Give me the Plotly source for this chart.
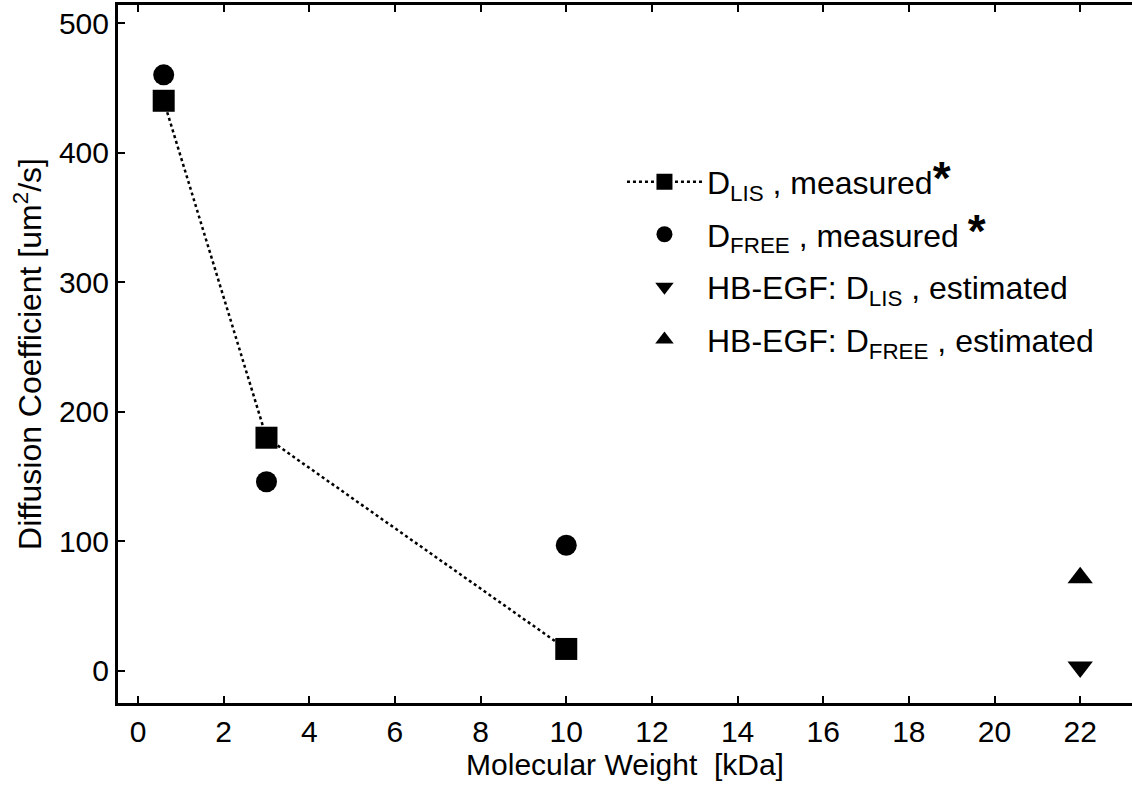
import plotly.graph_objects as go

# Data
mw_measured = [0.6, 3, 10]
d_lis_measured = [440, 180, 17]
d_free_measured = [460, 146, 97]
mw_hbegf = [22]
d_lis_hbegf = [3]
d_free_hbegf = [72]

x_ticks = list(range(0, 24, 2))
y_ticks = [0, 100, 200, 300, 400, 500]

FONT = "Liberation Sans, Arial, sans-serif"
star = "<span style='font-size:46px'><b>*</b></span>"

fig = go.Figure()
fig.add_trace(go.Scatter(
    x=mw_measured, y=d_lis_measured, mode="lines+markers",
    name="D<sub>LIS</sub> , measured" + star,
    line=dict(color="black", width=2.5, dash="dot"),
    marker=dict(symbol="square", size=22, color="black"),
    legendgroup="a"))
fig.add_trace(go.Scatter(
    x=mw_measured, y=d_free_measured, mode="markers",
    name="D<sub>FREE</sub> , measured " + star,
    marker=dict(symbol="circle", size=21, color="black"),
    legendgroup="b"))
fig.add_trace(go.Scatter(
    x=mw_hbegf, y=d_lis_hbegf, mode="markers",
    name="HB-EGF: D<sub>LIS</sub> , estimated",
    marker=dict(symbol="triangle-down", size=22, color="black"),
    legendgroup="c"))
fig.add_trace(go.Scatter(
    x=mw_hbegf, y=d_free_hbegf, mode="markers",
    name="HB-EGF: D<sub>FREE</sub> , estimated",
    marker=dict(symbol="triangle-up", size=22, color="black"),
    legendgroup="d"))

fig.update_layout(
    width=1132, height=792,
    margin=dict(l=118, r=0, t=5, b=89),
    paper_bgcolor="white", plot_bgcolor="white",
    font=dict(family=FONT, color="black", size=30),
    showlegend=True,
    legend=dict(x=0.497, y=0.786, xanchor="left", yanchor="top",
                font=dict(size=32, family=FONT), tracegroupgap=8,
                bgcolor="rgba(0,0,0,0)", itemwidth=75),
)
fig.update_xaxes(
    range=[-0.467, 23.21], tickvals=x_ticks,
    ticks="inside", ticklen=7, tickwidth=2, tickcolor="black",
    showline=True, linecolor="black", linewidth=3, mirror="allticks",
    showgrid=False, zeroline=False,
    tickfont=dict(size=30, family=FONT),
    title=dict(text="Molecular Weight  [kDa]", font=dict(size=30, family=FONT), standoff=5),
)
fig.update_yaxes(
    range=[-24.7, 513.9], tickvals=y_ticks,
    ticks="inside", ticklen=7, tickwidth=2, tickcolor="black",
    showline=True, linecolor="black", linewidth=3, mirror=False,
    showgrid=False, zeroline=False,
    tickfont=dict(size=30, family=FONT),
    title=dict(text="Diffusion Coefficient [um<sup>2</sup>/s]", font=dict(size=32, family=FONT), standoff=8),
)

fig.write_html("out.html")
